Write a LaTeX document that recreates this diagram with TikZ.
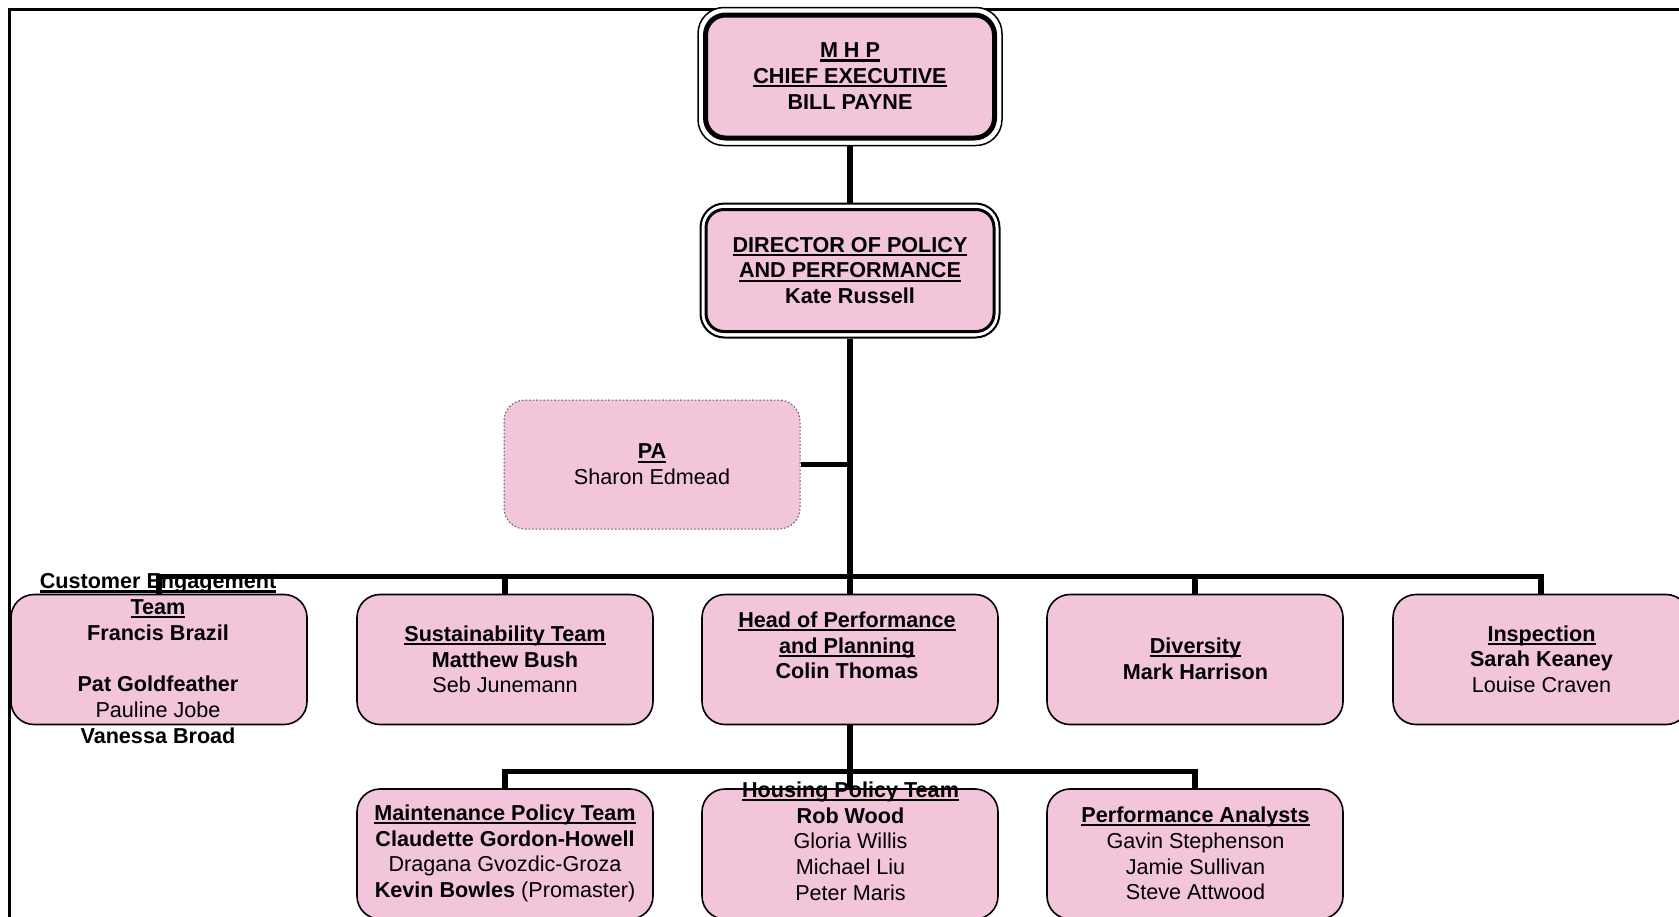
\documentclass[tikz,border=0pt]{standalone}
\usepackage{fontspec}
\setmainfont{Liberation Sans}
\definecolor{boxpink}{RGB}{242,197,218}
\newcommand{\myul}[1]{\leavevmode\setbox0\hbox{#1}\rlap{\rule[-1.9pt]{\wd0}{1.1pt}}\box0}
\begin{document}
\begin{tikzpicture}[x=0.5pt,y=-0.5pt,
  txt/.style={font=\fontsize{10.8}{12.85}\selectfont, align=center, inner sep=0pt},
  orgbox/.style={draw=black, line width=0.8pt, fill=boxpink, rounded corners=11.5pt,
                 minimum width=148pt, minimum height=65pt, inner sep=0pt},
  conn/.style={line width=2.75pt, draw=black}]
\useasboundingbox (0,0) rectangle (1679,916);
% frame
\draw[line width=1.5pt] (9,1000) -- (9,9.5) -- (1800,9.5);
% chief executive
\node[draw, line width=0.75pt, fill=white, rounded corners=13pt, minimum width=152pt,
      minimum height=69pt, inner sep=0pt] (ceoOuter) at (850,76.5) {};
\node[draw, line width=2.5pt, fill=boxpink, rounded corners=10pt, minimum width=144.5pt,
      minimum height=61.5pt, inner sep=0pt] (ceo) at (850,76.5) {};
% director
\node[draw, line width=1pt, fill=white, rounded corners=12pt, minimum width=149.5pt,
      minimum height=67pt, inner sep=0pt] (dirOuter) at (850,270.5) {};
\node[draw, line width=1.5pt, fill=boxpink, rounded corners=9pt, minimum width=144pt,
      minimum height=61pt, inner sep=0pt] (dir) at (850,270.5) {};
% PA
\node[orgbox, draw=gray!70!black, densely dotted, line width=0.5pt, minimum height=64.5pt,
      rounded corners=10.5pt] (pa) at (652,464.5) {};
% row 1
\node[orgbox] (cust) at (159,659.5) {};
\node[orgbox] (sust) at (505,659.5) {};
\node[orgbox] (head) at (850,659.5) {};
\node[orgbox] (div)  at (1195,659.5) {};
\node[orgbox] (insp) at (1541,659.5) {};
% row 2
\node[orgbox] (maint)    at (505,854) {};
\node[orgbox] (housing)  at (850,854) {};
\node[orgbox] (analysts) at (1195,854) {};
% connectors
\coordinate (bar1) at (850,576.5);
\coordinate (bar2) at (850,771.5);
\draw[conn] (ceoOuter.south) -- (dirOuter.north);
\draw[conn] (dirOuter.south) -- (head.north);
\draw[conn] (pa.east) -- (pa.east -| dirOuter.south);
\draw[conn] (cust.north) |- (bar1) -| (insp.north);
\draw[conn] (sust.north) -- (sust.north |- bar1);
\draw[conn] (div.north) -- (div.north |- bar1);
\draw[conn] (head.south) -- (housing.north);
\draw[conn] (maint.north) |- (bar2) -| (analysts.north);
% texts
\node[txt] (tceo) at (850,76) {\textbf{\myul{M H P}}\\\textbf{\myul{CHIEF EXECUTIVE}}\\\textbf{BILL PAYNE}};
\node[txt] (tdir) at (850,270.5) {\textbf{\myul{DIRECTOR OF POLICY}}\\\textbf{\myul{AND PERFORMANCE}}\\\textbf{Kate Russell}};
\node[txt] (tpa) at (652,464.5) {\textbf{\myul{PA}}\\Sharon Edmead};
\node[txt] (tcust) at (158,658.5) {\textbf{\myul{Customer Engagement}}\\\textbf{\myul{Team}}\\\textbf{Francis Brazil}\\\mbox{}\\\textbf{Pat Goldfeather}\\Pauline Jobe\\\textbf{Vanessa Broad}};
\node[txt] (tsust) at (505,659.5) {\textbf{\myul{Sustainability Team}}\\\textbf{Matthew Bush}\\Seb Junemann};
\node[txt] (thead) at (847,645.5) {\textbf{\myul{Head of Performance}}\\\textbf{\myul{and Planning}}\\\textbf{Colin Thomas}};
\node[txt] (tdiv) at (1195.5,658.5) {\textbf{\myul{Diversity}}\\\textbf{Mark Harrison}};
\node[txt] (tinsp) at (1541.5,659) {\textbf{\myul{Inspection}}\\\textbf{Sarah Keaney}\\Louise Craven};
\node[txt] (tmaint) at (505,853.5) {\textbf{\myul{Maintenance Policy Team}}\\\textbf{Claudette Gordon-Howell}\\Dragana Gvozdic-Groza\\\textbf{Kevin Bowles} (Promaster)};
\node[txt] (thousing) at (850.5,841) {\textbf{\myul{Housing Policy Team}}\\\textbf{Rob Wood}\\Gloria Willis\\Michael Liu\\Peter Maris};
\node[txt] (tanalysts) at (1195.5,853.5) {\textbf{\myul{Performance Analysts}}\\Gavin Stephenson\\Jamie Sullivan\\Steve Attwood};
\end{tikzpicture}
\end{document}
